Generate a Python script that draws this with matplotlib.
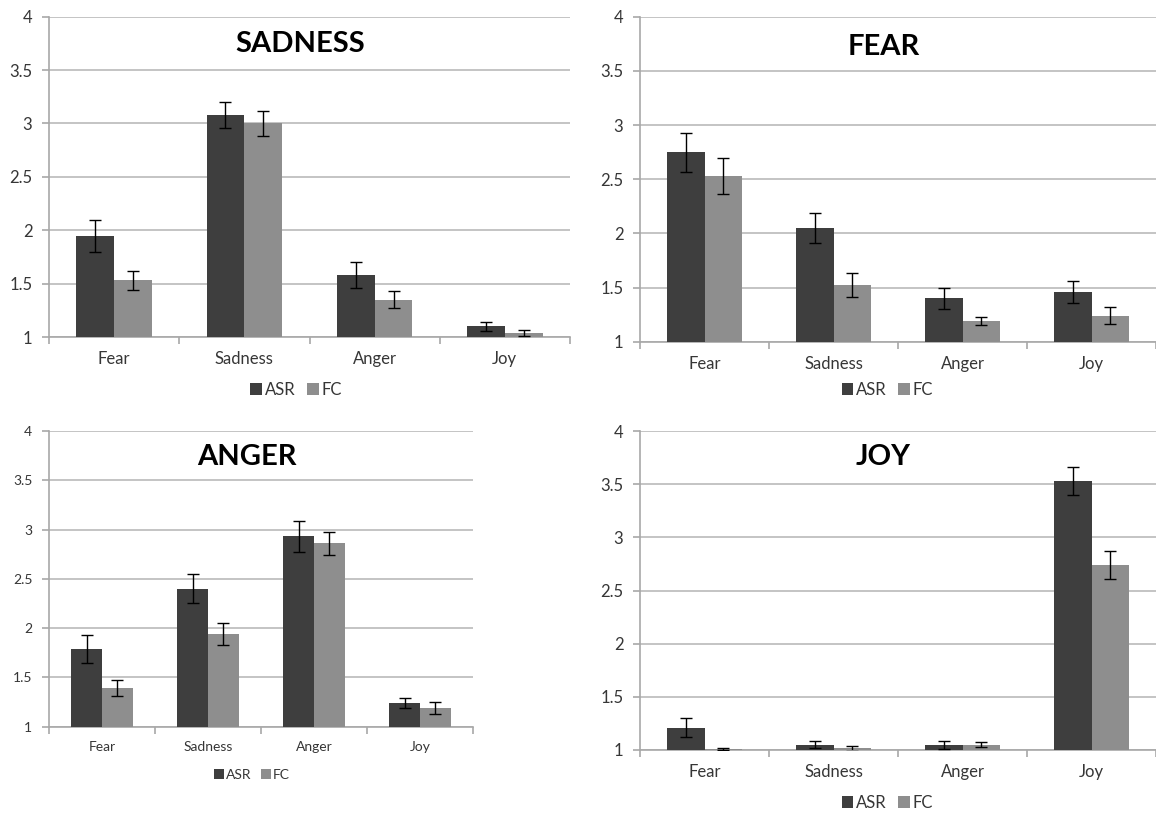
import numpy as np
import matplotlib
matplotlib.use('Agg')
import matplotlib.pyplot as plt

plt.rcParams['font.family'] = ['Lato', 'DejaVu Sans']

categories = ['Fear', 'Sadness', 'Anger', 'Joy']
series = ['ASR', 'FC']

# panel: SADNESS
sadness_asr = [1.95, 3.08, 1.58, 1.10]
sadness_asr_err = [0.15, 0.12, 0.12, 0.04]
sadness_fc = [1.53, 3.00, 1.35, 1.04]
sadness_fc_err = [0.09, 0.12, 0.08, 0.03]

# panel: FEAR
fear_asr = [2.75, 2.05, 1.40, 1.46]
fear_asr_err = [0.18, 0.14, 0.095, 0.10]
fear_fc = [2.53, 1.52, 1.19, 1.24]
fear_fc_err = [0.17, 0.11, 0.04, 0.08]

# panel: ANGER
anger_asr = [1.79, 2.40, 2.93, 1.24]
anger_asr_err = [0.145, 0.15, 0.16, 0.055]
anger_fc = [1.39, 1.94, 2.86, 1.19]
anger_fc_err = [0.08, 0.11, 0.115, 0.06]

# panel: JOY
joy_asr = [1.21, 1.05, 1.045, 3.53]
joy_asr_err = [0.09, 0.035, 0.035, 0.13]
joy_fc = [1.01, 1.015, 1.05, 2.74]
joy_fc_err = [0.008, 0.025, 0.025, 0.13]

yticks = [1, 1.5, 2, 2.5, 3, 3.5, 4]
ytick_labels = ['1', '1.5', '2', '2.5', '3', '3.5', '4']

col_asr = '#3e3e3e'
col_fc = '#8e8e8e'
txt = '#363636'

W, H = 1156, 814
fig = plt.figure(figsize=(W / 100, H / 100), dpi=100)


def panel(rect, xmax, title, title_xy, asr, asr_err, fc, fc_err, fs, legend_xy):
    ax = fig.add_axes(rect)
    x = np.arange(len(categories))
    w = 0.29
    ax.bar(x - w / 2, asr, w, color=col_asr, zorder=3, label=series[0])
    ax.bar(x + w / 2, fc, w, color=col_fc, zorder=3, label=series[1])
    ax.errorbar(x - w / 2, asr, yerr=asr_err, fmt='none', ecolor='black',
                elinewidth=1, capsize=4.5, capthick=1, zorder=4)
    ax.errorbar(x + w / 2, fc, yerr=fc_err, fmt='none', ecolor='black',
                elinewidth=1, capsize=4.5, capthick=1, zorder=4)
    ax.set_ylim(1, 4)
    ax.set_xlim(-0.5, xmax)
    ax.set_yticks(yticks)
    ax.set_yticklabels(ytick_labels)
    ax.yaxis.grid(True, color='#c4c4c4', linewidth=1.4, zorder=0)
    ax.set_axisbelow(True)
    for s in ['top', 'right']:
        ax.spines[s].set_visible(False)
    ax.spines['left'].set_color('#a8a8a8')
    ax.spines['bottom'].set_color('#a8a8a8')
    ax.spines['left'].set_linewidth(1.2)
    ax.spines['bottom'].set_linewidth(1.2)
    # category boundary ticks, labels in the middle
    ax.set_xticks(np.arange(-0.5, len(categories), 1.0))
    ax.set_xticklabels([])
    ax.set_xticks(x, minor=True)
    ax.set_xticklabels(categories, minor=True)
    ax.tick_params(axis='x', which='major', length=5, color='#a8a8a8', width=1.2)
    ax.tick_params(axis='x', which='minor', length=0, pad=10, labelsize=fs, labelcolor=txt)
    ax.tick_params(axis='y', length=5, color='#a8a8a8', width=1.2, pad=7,
                   labelsize=fs, labelcolor=txt)
    ax.text(title_xy[0], title_xy[1], title, transform=ax.transAxes,
            ha='center', va='center', fontsize=21, fontweight='bold', color='black')
    ax.legend(loc='center', bbox_to_anchor=(legend_xy[0] / W, 1 - legend_xy[1] / H),
              bbox_transform=fig.transFigure, ncol=2, frameon=False, fontsize=fs,
              handlelength=0.7, handleheight=0.7, handletextpad=0.15,
              columnspacing=0.7, labelcolor=txt)
    return ax


right_xmax = -0.5 + (W - 640) / 130.5

panel([49 / W, 1 - 337 / H, 521 / W, 320.3 / H], 3.5, 'SADNESS', (0.482, 0.915),
      sadness_asr, sadness_asr_err, sadness_fc, sadness_fc_err, 12, (296, 390))
panel([640 / W, 1 - 341.7 / H, (W - 640) / W, 325 / H], right_xmax, 'FEAR', (0.473, 0.907),
      fear_asr, fear_asr_err, fear_fc, fear_fc_err, 12, (887, 390))
panel([49 / W, 1 - 726.7 / H, 424 / W, 295.7 / H], 3.5, 'ANGER', (0.467, 0.912),
      anger_asr, anger_asr_err, anger_fc, anger_fc_err, 10, (252, 775))
panel([640 / W, 1 - 750 / H, (W - 640) / W, 319 / H], right_xmax, 'JOY', (0.471, 0.918),
      joy_asr, joy_asr_err, joy_fc, joy_fc_err, 12, (887, 803))

plt.savefig('out.png', dpi=100)
